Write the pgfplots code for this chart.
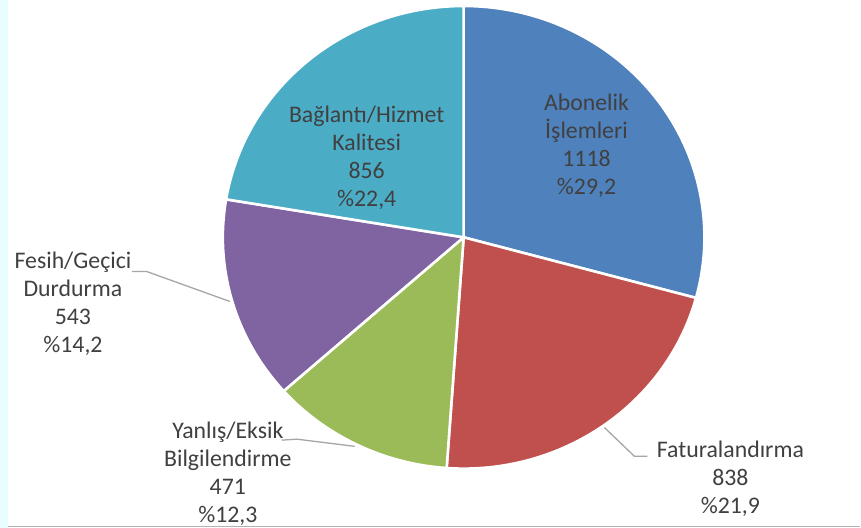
\documentclass[border=0pt]{standalone}
\usepackage{pgfplots}
\usepackage{pgfplotstable}
\pgfplotsset{compat=1.18}
\usepackage{fontspec}
\setmainfont{Carlito}
\definecolor{cA}{HTML}{4F81BD}
\definecolor{cB}{HTML}{C0504D}
\definecolor{cC}{HTML}{9BBB59}
\definecolor{cD}{HTML}{8064A2}
\definecolor{cE}{HTML}{4BACC6}
\definecolor{txt}{HTML}{404040}
\definecolor{lead}{HTML}{A6A6A6}
\definecolor{strip}{HTML}{E8FDFF}
\tikzset{lbl/.style={text=txt, font=\fontsize{23.8}{27.8}\selectfont, align=center, inner sep=0pt}}
\pgfplotstableread{
label value
Abonelik 1118
Faturalandirma 838
Yanlis 471
Fesih 543
Baglanti 856
}\piedata
\begin{document}
\begin{tikzpicture}
\pgfplotstablegetelem{0}{value}\of\piedata \let\va\pgfplotsretval
\pgfplotstablegetelem{1}{value}\of\piedata \let\vb\pgfplotsretval
\pgfplotstablegetelem{2}{value}\of\piedata \let\vc\pgfplotsretval
\pgfplotstablegetelem{3}{value}\of\piedata \let\vd\pgfplotsretval
\pgfplotstablegetelem{4}{value}\of\piedata \let\ve\pgfplotsretval
\pgfmathsetmacro\tot{\va+\vb+\vc+\vd+\ve}
\pgfmathsetmacro\aA{90}
\pgfmathsetmacro\aB{\aA-\va/\tot*360}
\pgfmathsetmacro\aC{\aB-\vb/\tot*360}
\pgfmathsetmacro\aD{\aC-\vc/\tot*360}
\pgfmathsetmacro\aE{\aD-\vd/\tot*360}
\pgfmathsetmacro\aF{\aE-\ve/\tot*360}
\def\cx{464}\def\cy{-237.5}\def\rx{241}\def\ry{231.5}
\begin{axis}[
  x=1pt, y=1pt, scale only axis,
  xmin=0, xmax=861, ymin=-528, ymax=0,
  hide axis, clip=false,
]
\fill[white] (axis cs:0,-528) rectangle (axis cs:861,0);
\fill[strip] (axis cs:0,-528) rectangle (axis cs:8.5,0);
\draw[line width=1.4pt, color=black!30] (axis cs:8.5,-527.2) -- (axis cs:861,-527.2);
\foreach \s/\e/\c in {\aA/\aB/cA,\aB/\aC/cB,\aC/\aD/cC,\aD/\aE/cD,\aE/\aF/cE}{
  \edef\tmp{\noexpand\filldraw[fill=\c, draw=white, line width=2.6pt, line join=round]
    (axis cs:\cx,\cy) -- (axis cs:{\cx+\rx*cos(\s)},{\cy+\ry*sin(\s)})
    arc[start angle=\s, end angle=\e, x radius=\rx pt, y radius=\ry pt] -- cycle;}
  \tmp
}
% leader lines
\draw[lead, line width=1.3pt] (axis cs:132,-271.7) -- (axis cs:146.7,-271.7) -- (axis cs:230,-301.7);
\draw[lead, line width=1.3pt] (axis cs:282,-440.5) -- (axis cs:297,-439.5) -- (axis cs:355,-446.7);
\draw[lead, line width=1.3pt] (axis cs:605,-428) -- (axis cs:635,-456.7) -- (axis cs:648,-456.7);
% labels
\node[lbl] at (axis cs:587,-146) {Abonelik\\İşlemleri\\1118\\\%29,2};
\node[lbl] at (axis cs:367,-158) {Bağlantı/Hizmet\\Kalitesi\\856\\\%22,4};
\node[lbl] at (axis cs:73,-304) {Fesih/Geçici\\Durdurma\\543\\\%14,2};
\node[lbl] at (axis cs:228,-474) {Yanlış/Eksik\\Bilgilendirme\\471\\\%12,3};
\node[lbl] at (axis cs:731,-479) {Faturalandırma\\838\\\%21,9};
\end{axis}
\end{tikzpicture}
\end{document}
